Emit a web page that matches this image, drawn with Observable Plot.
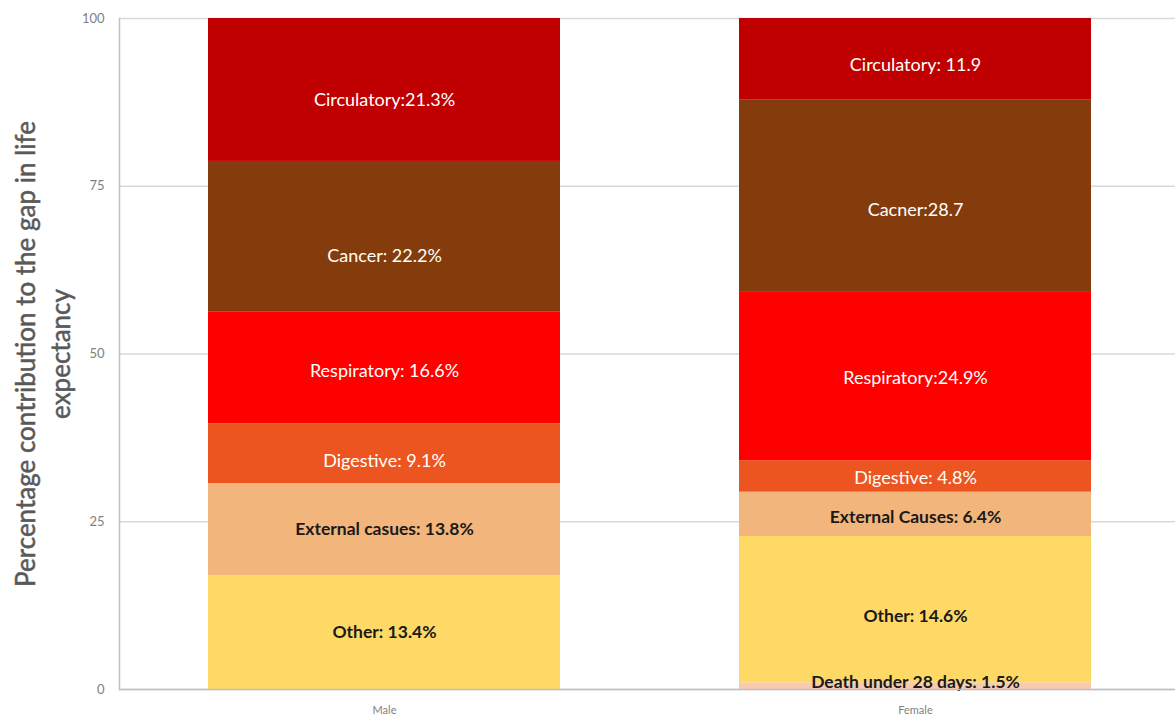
<!DOCTYPE html>
<html>
<head>
<meta charset="utf-8">
<script src="https://cdn.jsdelivr.net/npm/d3@7"></script>
<script src="https://cdn.jsdelivr.net/npm/@observablehq/plot@0.6"></script>
<style>
  html, body { margin: 0; padding: 0; background: #ffffff; }
  #chart svg { display: block; }
</style>
</head>
<body>
<div id="chart"></div>
<script>
// Categories (bottom to top of each stacked bar)
const groups = ["Male", "Female"];
const causes = ["Death under 28 days", "Other", "External causes", "Digestive", "Respiratory", "Cancer", "Circulatory"];

// Segment heights as drawn in the picture (percent of the bar)
const maleValues   = [0.0, 17.0, 13.7, 8.9, 16.7, 22.4, 21.3];
const femaleValues = [1.0, 21.8, 6.6, 4.7, 25.2, 28.6, 12.1];

// Data labels as written on the chart
const maleLabels   = ["", "Other: 13.4%", "External casues: 13.8%", "Digestive: 9.1%", "Respiratory: 16.6%", "Cancer: 22.2%", "Circulatory:21.3%"];
const femaleLabels = ["Death under 28 days: 1.5%", "Other: 14.6%", "External Causes: 6.4%", "Digestive: 4.8%", "Respiratory:24.9%", "Cacner:28.7", "Circulatory: 11.9"];

const yTicks = [0, 25, 50, 75, 100];
const yTitle = "Percentage contribution to the gap in life\nexpectancy";

// Styling
const causeColors = ["#F8CBAD", "#FFD966", "#F2B57B", "#EC5520", "#FF0000", "#843C0C", "#C00000"];
const darkLabelCauses = new Set(["Death under 28 days", "Other", "External causes"]);
// small vertical nudges (px) of individual labels, as placed in the original
const labelNudge = {
  "Male|Circulatory": 10, "Male|Cancer": 20, "Male|Digestive": 8, "Male|Respiratory": 3,
  "Female|Circulatory": 6, "Female|Cancer": 15, "Female|Other": 7, "Female|Death under 28 days": -4,
  "Female|External causes": 3, "Female|Digestive": 2, "Female|Respiratory": 2
};

const rows = [];
groups.forEach(g => {
  const vals = g === "Male" ? maleValues : femaleValues;
  const labs = g === "Male" ? maleLabels : femaleLabels;
  causes.forEach((c, i) => rows.push({group: g, cause: c, value: vals[i], label: labs[i]}));
});

const font = "Lato, 'Open Sans', sans-serif";
const nudgeOf = d => labelNudge[d.group + "|" + d.cause] ?? 0;
const nudges = Array.from(new Set(rows.map(nudgeOf)));

const labelMarks = [];
nudges.forEach(n => {
  labelMarks.push(Plot.text(rows, Plot.stackY({
    x: "group", y: "value", z: "cause",
    text: d => (darkLabelCauses.has(d.cause) && nudgeOf(d) === n) ? d.label : null,
    fill: "#1a1a1a", fontSize: 17.5, fontWeight: "bold", dy: n
  })));
  labelMarks.push(Plot.text(rows, Plot.stackY({
    x: "group", y: "value", z: "cause",
    text: d => (!darkLabelCauses.has(d.cause) && nudgeOf(d) === n) ? d.label : null,
    fill: "#ffffff", fontSize: 18, dy: n
  })));
});

const chart = Plot.plot({
  width: 1175,
  height: 717,
  marginLeft: 119,
  marginRight: 0,
  marginTop: 18,
  marginBottom: 28,
  style: {fontFamily: font, background: "#ffffff"},
  x: {domain: groups, paddingInner: 0.338, paddingOuter: 0.1617, align: 0.512, label: null},
  y: {domain: [0, 100], label: null},
  color: {domain: causes, range: causeColors},
  marks: [
    Plot.gridY(yTicks, {stroke: "#d9d9d9", strokeOpacity: 1, strokeWidth: 1.5}),
    Plot.barY(rows, {x: "group", y: "value", fill: "cause"}),
    ...labelMarks,
    Plot.ruleY([0], {stroke: "#bfbfbf", strokeWidth: 1.5}),
    Plot.frame({anchor: "left", stroke: "#bfbfbf", strokeWidth: 1.5}),
    Plot.axisY({ticks: yTicks, tickSize: 0, tickPadding: 15, fontSize: 13, color: "#7f7f7f", label: null}),
    Plot.axisX({tickSize: 0, tickPadding: 17, fontSize: 11, color: "#7f7f7f", label: null}),
    Plot.text([yTitle], {
      frameAnchor: "left", textAnchor: "middle", rotate: -90, dx: -78,
      fontSize: 26, fill: "#595959", stroke: "#595959", strokeWidth: 0.5,
      lineHeight: 1.35, fontWeight: "normal"
    })
  ]
});

document.getElementById("chart").appendChild(chart);
</script>
</body>
</html>
